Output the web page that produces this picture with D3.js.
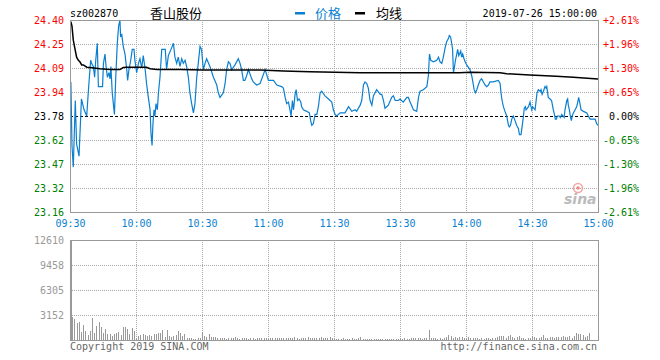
<!DOCTYPE html>
<html><head><meta charset="utf-8">
<script src="https://cdn.jsdelivr.net/npm/d3@7"></script>
<style>
body{margin:0;background:#fff;}
svg{display:block;}
</style></head><body>
<svg id="chart" width="660" height="360"></svg>
<script>
const stockCode = "sz002870";
const stockName = "香山股份";
const legendLabels = ["价格", "均线"];
const timestamp = "2019-07-26 15:00:00";
const copyrightText = "Copyright 2019 SINA.COM";
const siteText = "http://finance.sina.com.cn";
const preClose = 23.78;
const timeTickMinutes = [0, 30, 60, 90, 120, 150, 180, 210, 240];
const timeTickLabels = ["09:30","10:00","10:30","11:00","11:30","13:30","14:00","14:30","15:00"];
const priceTicks = [24.40, 24.245, 24.09, 23.935, 23.78, 23.625, 23.47, 23.315, 23.16];
const priceTickLabels = ["24.40","24.25","24.09","23.94","23.78","23.62","23.47","23.32","23.16"];
const pctTickLabels = ["+2.61%","+1.96%","+1.30%","+0.65%","0.00%","-0.65%","-1.30%","-1.96%","-2.61%"];
const volumeTicks = [12610, 9458, 6305, 3152];
const volumeMax = 12610;

const priceMinutes = [0.4,0.9,1.5,2.4,3.0,4.1,5.2,6.4,7.6,8.3,8.8,9.4,9.8,10.6,11.2,11.7,12.4,12.9,14.8,15.2,15.9,16.4,17.0,17.7,18.2,18.6,19.2,19.7,20.2,20.8,21.5,22.1,22.7,23.0,23.5,24.2,25.0,25.8,26.2,26.8,27.6,28.3,29.1,29.5,30.3,31.1,31.8,32.6,33.3,34.1,34.8,35.6,36.4,36.8,37.3,37.7,38.2,38.6,39.1,39.7,40.2,40.9,41.7,43.3,43.9,44.7,46.2,47.0,47.7,48.5,49.2,50.0,50.8,51.5,52.3,53.0,53.8,54.5,55.3,56.1,56.8,57.6,58.3,59.1,59.8,60.6,61.4,62.1,63.6,65.2,66.7,67.4,68.2,69.7,70.5,71.2,72.0,72.7,73.5,75.0,76.5,77.3,78.0,78.8,79.5,80.3,81.1,82.6,83.3,84.8,86.4,
88.7,90.2,92.5,94.0,96.2,97.0,97.8,98.5,99.3,100.0,100.5,101.1,101.6,102.3,102.8,103.4,104.1,104.9,105.3,106.1,107.6,108.8,109.4,109.9,110.6,111.4,112.2,112.9,113.7,114.4,115.9,117.5,119.0,119.7,120.5,121.2,122.8,125.0,126.6,128.1,129.6,130.3,131.9,132.6,133.4,134.1,134.9,135.6,136.4,137.2,137.9,139.4,141.0,141.7,142.5,143.2,144.7,146.2,147.0,147.8,149.3,150.0,151.5,153.1,153.8,154.6,156.1,157.6,158.4,159.1,160.6,162.2,162.9,163.4,164.0,165.2,166.7,167.5,168.2,
169.0,169.7,170.5,171.2,172.0,172.4,173.0,173.5,173.9,174.3,174.7,175.2,175.8,176.2,176.7,177.6,178.0,178.5,179.1,179.6,180.3,181.8,182.6,183.0,183.7,184.3,184.9,185.6,186.4,187.1,187.9,188.7,189.4,190.2,190.9,192.4,194.7,195.5,195.9,196.4,197.0,197.7,198.5,199.3,199.7,200.2,200.8,201.5,202.3,203.0,203.8,204.3,205.0,205.5,206.1,206.5,207.0,207.3,208.4,209.1,209.4,209.9,210.3,211.4,211.8,212.3,212.9,213.7,214.1,214.6,215.2,215.9,216.4,216.7,217.4,218.2,218.9,219.7,220.2,220.6,221.1,221.5,222.4,222.9,223.5,224.6,225.0,225.8,226.2,226.5,227.0,227.4,227.9,228.3,228.8,229.6,230.3,230.8,231.2,231.8,232.3,233.4,234.9,235.6,236.4,238.7,239.4,240.0];
const prices = [24.00,23.59,23.45,23.88,23.60,23.52,23.89,23.82,23.78,23.93,24.03,24.14,24.12,24.10,24.03,24.14,24.25,23.97,23.97,24.12,24.18,24.10,24.03,24.06,24.02,24.10,23.93,23.86,23.79,24.03,24.25,24.36,24.40,24.29,24.31,24.23,24.18,24.08,24.01,24.08,24.14,24.21,24.21,24.14,24.06,24.12,24.15,24.09,24.17,24.09,23.99,23.90,23.82,23.67,23.59,23.73,23.82,23.78,23.86,23.82,23.93,24.03,24.21,24.21,24.08,24.17,24.22,24.25,24.16,24.12,24.16,24.10,24.15,24.12,24.14,24.10,24.03,23.93,23.86,23.80,23.86,24.03,24.12,24.23,24.21,24.08,24.12,24.15,24.10,24.03,23.98,23.93,23.90,23.93,23.99,24.08,24.13,24.12,24.08,24.11,24.15,24.12,24.08,24.01,24.01,24.04,24.08,24.02,24.00,23.98,23.99,
24.08,24.01,24.01,23.98,23.97,23.96,23.90,23.86,23.87,23.82,23.78,23.88,23.82,23.92,23.95,23.88,23.89,23.87,23.84,23.82,23.81,23.80,23.75,23.72,23.73,23.79,23.79,23.84,23.93,23.94,23.91,23.89,23.87,23.82,23.79,23.78,23.80,23.80,23.84,23.81,23.82,23.81,23.85,23.88,23.98,24.00,23.99,23.96,23.88,23.85,23.91,23.95,23.92,23.92,23.88,23.83,23.85,23.90,23.91,23.88,23.88,23.89,23.87,23.90,23.90,23.87,23.82,23.81,23.90,23.94,23.95,23.97,24.04,24.18,24.14,24.13,24.14,24.16,24.13,
24.12,24.16,24.22,24.26,24.28,24.30,24.29,24.25,24.21,24.06,24.09,24.14,24.18,24.21,24.17,24.20,24.16,24.18,24.15,24.13,24.11,24.08,24.04,24.01,23.95,23.93,23.95,23.98,24.01,24.02,24.00,23.98,23.97,23.98,24.00,24.00,24.01,23.99,23.93,23.88,23.84,23.81,23.78,23.72,23.71,23.72,23.76,23.78,23.75,23.72,23.70,23.66,23.66,23.71,23.78,23.83,23.84,23.82,23.84,23.87,23.85,23.82,23.84,23.82,23.87,23.93,23.95,23.94,23.95,23.92,23.94,23.97,23.96,23.97,23.90,23.89,23.88,23.82,23.79,23.76,23.76,23.78,23.78,23.77,23.79,23.77,23.82,23.88,23.89,23.85,23.82,23.78,23.75,23.78,23.80,23.82,23.84,23.87,23.90,23.86,23.82,23.81,23.80,23.78,23.76,23.76,23.73,23.72];

const avgMinutes = [0.4,0.9,1.5,2.3,3.0,3.8,4.5,5.3,6.1,7.6,9.1,13.6,18.2,22.7,24.2,25.8,34.8,36.4,39.4,50,60.6,86.4,97,109,131.9,177,181.8,195.5,198.5,209,221,228.8,240];
const avgPrices = [24.39,24.36,24.27,24.21,24.16,24.14,24.13,24.11,24.11,24.095,24.093,24.085,24.08,24.08,24.093,24.095,24.095,24.085,24.08,24.08,24.077,24.077,24.071,24.065,24.06,24.06,24.063,24.06,24.053,24.045,24.036,24.03,24.019];

const volumes = [
2900,2940,2650,2190,2310,1050,1890,1130,630,1180,
2730,840,1760,2270,1680,840,1390,710,710,550,
800,920,1050,590,1600,1680,1430,710,1510,1130,
300,500,670,710,630,500,670,500,710,760,
880,840,1220,420,1220,500,380,550,590,1130,
920,500,760,210,210,210,170,170,250,300,
1050,550,420,710,380,340,380,250,200,300,
250,180,300,260,200,340,220,180,260,300,
210,170,250,200,150,300,260,230,280,200,
170,260,240,300,250,230,280,240,200,300,
260,200,420,260,180,250,220,300,440,230,
250,300,200,260,420,240,280,300,320,220,
150,180,120,160,200,170,140,180,200,150,
160,200,380,170,150,140,160,180,150,140,
150,160,140,170,180,150,160,150,160,170,
200,150,240,180,170,220,250,210,300,200,
170,300,200,1260,250,300,200,150,210,170,
200,400,630,450,300,350,280,320,340,300,
250,320,300,260,220,250,180,200,170,230,
200,180,220,300,420,500,510,500,300,560,
600,350,250,420,500,280,200,160,250,300,
460,350,280,300,400,620,280,300,350,380,
300,420,380,350,480,400,420,550,300,480,
840,760,700,590,350,500,920,0,0,0,
0];

const svg = d3.select("#chart");
const MONO = "'DejaVu Sans Mono', monospace";
const CJK = "'Noto Sans CJK SC', sans-serif";
const FS = 10;
const RED = "#ff0000", GREEN = "#008000", BLUE = "#0a7fd0", GRAY = "#999";

const x = d3.scaleLinear().domain([0, 240]).range([70, 598]);
const yP = d3.scaleLinear().domain([23.16, 24.40]).range([212, 20]);
const yV = d3.scaleLinear().domain([0, volumeMax]).range([340, 240]);

function colorFor(i) { return i < 4 ? RED : (i === 4 ? "#000" : GREEN); }

// header
svg.append("text").attr("x", 70).attr("y", 16.5).attr("font-family", MONO).attr("font-size", FS)
  .attr("fill", "#000").text(stockCode);
svg.append("text").attr("x", 150).attr("y", 17.5).attr("font-family", CJK).attr("font-size", 13)
  .attr("fill", "#000").text(stockName);
svg.append("rect").attr("x", 295).attr("y", 12).attr("width", 10).attr("height", 2.5).attr("fill", BLUE);
svg.append("text").attr("x", 315).attr("y", 17.5).attr("font-family", CJK).attr("font-size", 13)
  .attr("fill", BLUE).text(legendLabels[0]);
svg.append("rect").attr("x", 355).attr("y", 12).attr("width", 10).attr("height", 2.5).attr("fill", "#000");
svg.append("text").attr("x", 376).attr("y", 17.5).attr("font-family", CJK).attr("font-size", 13)
  .attr("fill", "#000").text(legendLabels[1]);
svg.append("text").attr("x", 597).attr("y", 16.5).attr("text-anchor", "end").attr("font-family", MONO)
  .attr("font-size", FS).attr("fill", "#000").text(timestamp);

// grid
const grid = svg.append("g").attr("shape-rendering", "crispEdges");
priceTicks.forEach((v, i) => {
  if (i === 0 || i === priceTicks.length - 1) return;
  grid.append("line").attr("x1", 70).attr("x2", 598).attr("y1", Math.round(yP(v)) + 0.5).attr("y2", Math.round(yP(v)) + 0.5)
    .attr("stroke", v === preClose ? "#000" : "#aaa")
    .attr("stroke-dasharray", v === preClose ? "3,2" : "1,1");
});
timeTickMinutes.forEach((m, i) => {
  if (i === 0 || i === timeTickMinutes.length - 1) return;
  const xx = Math.round(x(m)) + 0.5;
  grid.append("line").attr("x1", xx).attr("x2", xx).attr("y1", 20).attr("y2", 212)
    .attr("stroke", "#aaa").attr("stroke-dasharray", "1,1");
  grid.append("line").attr("x1", xx).attr("x2", xx).attr("y1", 240).attr("y2", 340)
    .attr("stroke", "#aaa").attr("stroke-dasharray", "1,1");
});
volumeTicks.forEach((v, i) => {
  if (i === 0) return;
  const yy = Math.round(yV(v)) + 0.5;
  grid.append("line").attr("x1", 70).attr("x2", 598).attr("y1", yy).attr("y2", yy)
    .attr("stroke", "#aaa").attr("stroke-dasharray", "1,1");
});

// sina watermark
const wm = svg.append("g");
wm.append("circle").attr("cx", 578).attr("cy", 188).attr("r", 4.5).attr("fill", "none")
  .attr("stroke", "#f2a8a8").attr("stroke-width", 1.6);
wm.append("circle").attr("cx", 578).attr("cy", 188).attr("r", 1.8).attr("fill", "#e88");
wm.append("text").attr("x", 564).attr("y", 204).attr("font-family", "'DejaVu Sans', sans-serif")
  .attr("font-size", 14).attr("font-weight", "bold").attr("font-style", "italic")
  .attr("fill", "#bbb").text("sina");

// volume bars
svg.append("g").attr("shape-rendering", "crispEdges").selectAll("rect").data(volumes).join("rect")
  .attr("x", (d, i) => Math.round(x(i)))
  .attr("y", d => yV(d))
  .attr("width", 1)
  .attr("height", d => 340 - yV(d))
  .attr("fill", GRAY);

// lines
const priceData = priceMinutes.map((m, i) => [m, prices[i]]);
const avgData = avgMinutes.map((m, i) => [m, avgPrices[i]]);
const lineGen = d3.line().x(d => x(d[0])).y(d => yP(d[1]));
svg.append("path").datum(priceData).attr("d", lineGen).attr("fill", "none")
  .attr("stroke", BLUE).attr("stroke-width", 1.2);
svg.append("path").datum(avgData).attr("d", lineGen).attr("fill", "none")
  .attr("stroke", "#000").attr("stroke-width", 1.5);

// borders
const borders = svg.append("g").attr("shape-rendering", "crispEdges").attr("fill", "none").attr("stroke", GRAY);
borders.append("rect").attr("x", 70).attr("y", 20).attr("width", 528).attr("height", 192);
borders.append("rect").attr("x", 70).attr("y", 240).attr("width", 528).attr("height", 100);
borders.append("line").attr("x1", 71.5).attr("x2", 71.5).attr("y1", 240).attr("y2", 340);

// axes
const leftAxis = svg.append("g").attr("transform", "translate(70,0)")
  .call(d3.axisLeft(yP).tickValues(priceTicks).tickSize(0).tickPadding(6)
    .tickFormat((d, i) => priceTickLabels[i]));
leftAxis.select(".domain").remove();
leftAxis.selectAll("text").attr("font-family", MONO).attr("font-size", FS)
  .attr("fill", (d, i) => colorFor(i));

const rightAxis = svg.append("g").attr("transform", "translate(598,0)")
  .call(d3.axisRight(yP).tickValues(priceTicks).tickSize(0).tickPadding(5)
    .tickFormat((d, i) => pctTickLabels[i]));
rightAxis.select(".domain").remove();
rightAxis.selectAll("text").attr("font-family", MONO).attr("font-size", FS)
  .attr("text-anchor", "end").attr("x", 41)
  .attr("fill", (d, i) => colorFor(i));

const bottomAxis = svg.append("g").attr("transform", "translate(0,212)")
  .call(d3.axisBottom(x).tickValues(timeTickMinutes).tickSize(0).tickPadding(8)
    .tickFormat((d, i) => timeTickLabels[i]));
bottomAxis.select(".domain").remove();
bottomAxis.selectAll("text").attr("font-family", MONO).attr("font-size", FS).attr("fill", BLUE);

const volAxis = svg.append("g").attr("transform", "translate(70,0)")
  .call(d3.axisLeft(yV).tickValues(volumeTicks).tickSize(0).tickPadding(6)
    .tickFormat(d3.format("d")));
volAxis.select(".domain").remove();
volAxis.selectAll("text").attr("font-family", MONO).attr("font-size", FS).attr("fill", GRAY);

// footer
svg.append("text").attr("x", 70).attr("y", 349.5).attr("font-family", MONO).attr("font-size", FS)
  .attr("fill", "#666").text(copyrightText);
svg.append("text").attr("x", 597).attr("y", 349.5).attr("text-anchor", "end").attr("font-family", MONO)
  .attr("font-size", FS).attr("fill", "#666").text(siteText);
</script>
</body></html>
